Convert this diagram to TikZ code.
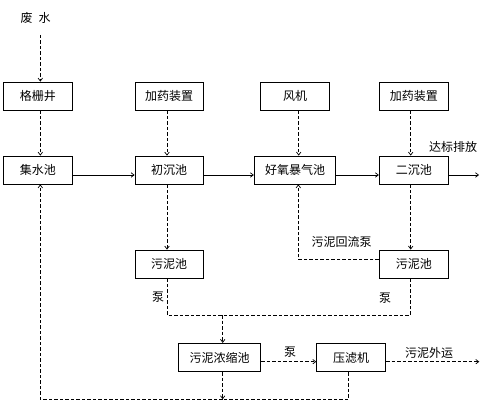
\documentclass[tikz,border=0pt]{standalone}
\usepackage{fontspec}
\setmainfont{Noto Sans CJK SC}
\usetikzlibrary{arrows.meta,calc}
\begin{document}
\begin{tikzpicture}[x=1pt,y=-1pt,
  box/.style={draw,line width=0.8pt,minimum height=28pt,inner sep=0pt,font=\fontsize{12}{14}\selectfont},
  lbl/.style={inner sep=0pt,font=\fontsize{12}{14}\selectfont},
  arr/.style={line width=0.7pt,-{Straight Barb[length=3pt,width=4.5pt]}},
  dsh/.style={line width=0.7pt,dash pattern=on 3.5pt off 2pt},
  darr/.style={arr,dash pattern=on 3.5pt off 2pt}]
\useasboundingbox (0,0) rectangle (489,409);
% boxes
\node[box,minimum width=69pt] (gsj) at (37.8,96) {格栅井};
\node[box,minimum width=68pt] (jy1) at (169,96) {加药装置};
\node[box,minimum width=68.6pt] (fj) at (295,96) {风机};
\node[box,minimum width=69pt] (jy2) at (413.8,96) {加药装置};
\node[box,minimum width=69pt] (jss) at (37.8,170) {集水池};
\node[box,minimum width=68pt] (ccc) at (169,170) {初沉池};
\node[box,minimum width=81.4pt] (hy) at (295,170) {好氧暴气池};
\node[box,minimum width=69pt] (ecc) at (413.8,170) {二沉池};
\node[box,minimum width=68pt] (wn1) at (169,264) {污泥池};
\node[box,minimum width=69pt] (wn2) at (413.8,264) {污泥池};
\node[box,minimum width=82.4pt,minimum height=28.4pt] (nsc) at (219.5,357.5) {污泥浓缩池};
\node[box,minimum width=69pt,minimum height=28.4pt] (ylj) at (351.2,357.5) {压滤机};
% labels
\node[lbl] (fs) at (35.5,18) {废\hspace{6pt}水};
\node[lbl] (db) at (453,147) {达标排放};
\node[lbl] (hlb) at (341.7,242) {污泥回流泵};
\node[lbl] (b1) at (158,297) {泵};
\node[lbl] (b2) at (385,298) {泵};
\node[lbl] (b3) at (290,352) {泵};
\node[lbl] (wy) at (429,352.5) {污泥外运};
% coordinates
\coordinate (fsb) at (40.3,35);
\coordinate (out1) at (479,175);
\coordinate (out2) at (479.3,361.7);
\coordinate (m1) at (167,315);
\coordinate (m2) at (410.7,315);
\coordinate (mid) at (222.7,315);
\coordinate (bot) at (222.7,399.3);
\coordinate (bl) at (40.3,399.3);
\coordinate (br) at (348.3,399.3);
\coordinate (rc) at (298.3,259.3);
% dashed feeds
\draw[darr] (fsb) -- ([xshift=2.5pt]gsj.north);
\draw[darr] ([xshift=2.5pt]gsj.south) -- ([xshift=2.5pt]jss.north);
\draw[darr] ([xshift=-2pt]jy1.south) -- ([xshift=-2pt]ccc.north);
\draw[darr] ([xshift=3.7pt]fj.south) -- ([xshift=3.7pt]hy.north);
\draw[darr] ([xshift=-3.1pt]jy2.south) -- ([xshift=-3.1pt]ecc.north);
% main line
\draw[arr] ([yshift=-5pt]jss.east) -- ([yshift=-5pt]ccc.west);
\draw[arr] ([yshift=-5pt]ccc.east) -- ([yshift=-5pt]hy.west);
\draw[arr] ([yshift=-5pt]hy.east) -- ([yshift=-5pt]ecc.west);
\draw[arr] ([yshift=-5pt]ecc.east) -- (out1);
% sludge
\draw[darr] ([xshift=-2pt]ccc.south) -- ([xshift=-2pt]wn1.north);
\draw[darr] ([xshift=-3.1pt]ecc.south) -- ([xshift=-3.1pt]wn2.north);
\draw[darr] ([yshift=4.7pt]wn2.west) -- (rc) -- (rc |- hy.south);
\draw[dsh] ([xshift=-2pt]wn1.south) -- (m1) -- (m2) -- ([xshift=-3.1pt]wn2.south);
\draw[darr] (mid) -- (mid |- nsc.north);
\draw[darr] (nsc.east |- out2) -- (ylj.west |- out2);
\draw[darr] (ylj.east |- out2) -- (out2);
\draw[darr] (bot |- nsc.south) -- (bot);
\draw[dsh] (br |- ylj.south) -- (br) -- (bot);
\draw[darr] (bot) -- (bl) -- (bl |- jss.south);
\end{tikzpicture}
\end{document}
